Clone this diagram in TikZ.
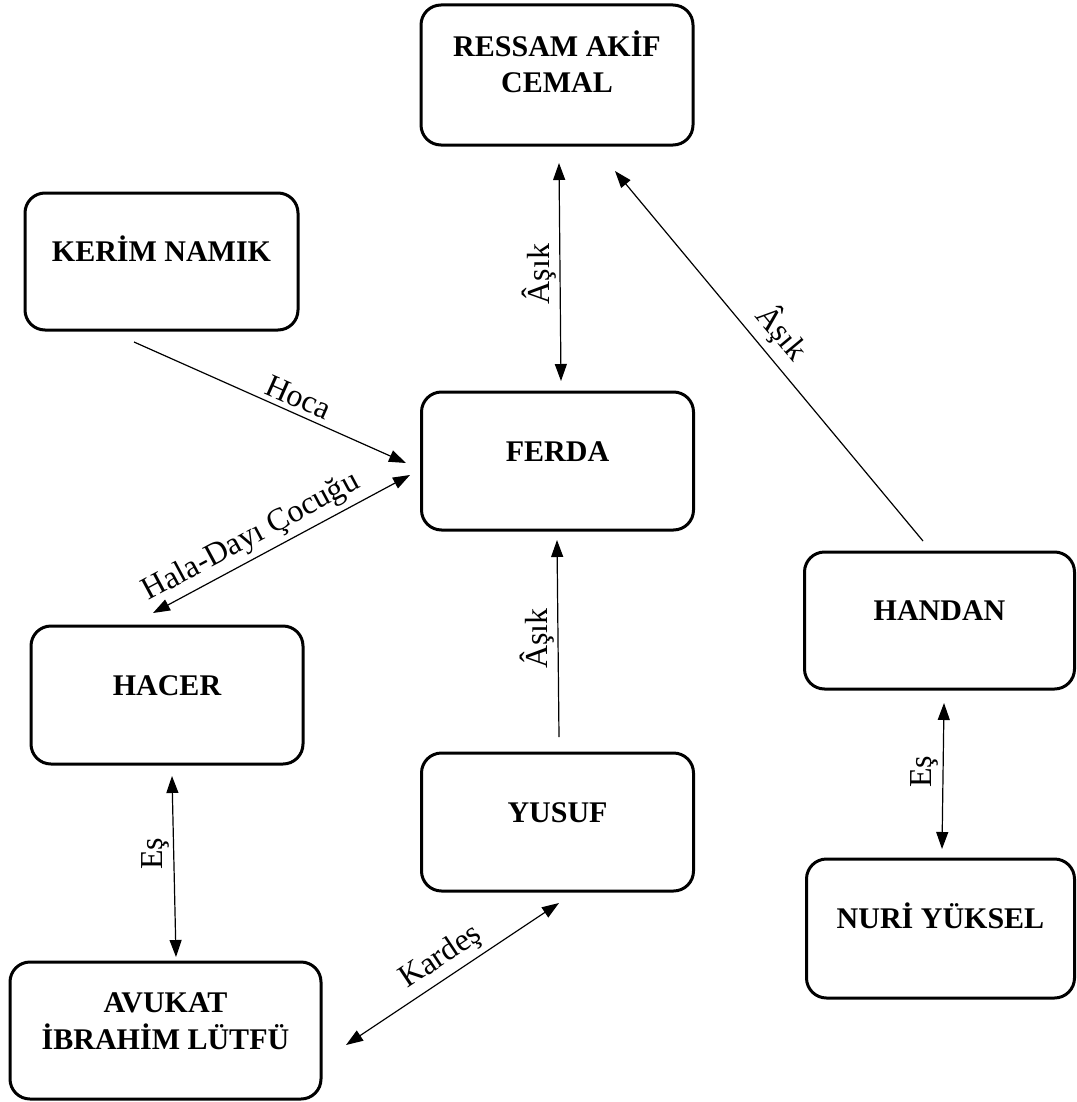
\documentclass[tikz,border=0pt]{standalone}
\usepackage{fontspec}
\setmainfont{Liberation Serif}
\usetikzlibrary{arrows.meta}
\begin{document}
\begin{tikzpicture}[x=0.5pt,y=-0.5pt,
  box/.style={draw, line width=1.5pt, rounded corners=10pt, inner sep=0pt},
  boxtxt/.style={font=\fontsize{15}{18}\selectfont\bfseries, inner sep=0pt, anchor=base},
  rel/.style={line width=0.6pt},
  lbl/.style={font=\fontsize{16}{19}\selectfont, inner sep=2.5pt, anchor=south},
  >={Triangle[length=8.5pt,width=6pt]}]
\useasboundingbox (0,0) rectangle (1076,1102);

% boxes
\node[box, minimum width=136pt, minimum height=70pt] (ressam) at (557,75) {};
\node[box, minimum width=136.5pt, minimum height=68.5pt] (kerim) at (161.5,261.5) {};
\node[box, minimum width=136pt, minimum height=69pt] (ferda) at (557.5,461) {};
\node[box, minimum width=135pt, minimum height=68.5pt] (handan) at (939.5,620.5) {};
\node[box, minimum width=136pt, minimum height=69pt] (hacer) at (167,695) {};
\node[box, minimum width=136pt, minimum height=69pt] (yusuf) at (557.5,822) {};
\node[box, minimum width=134pt, minimum height=69.5pt] (nuri) at (940.5,928.5) {};
\node[box, minimum width=155.5pt, minimum height=68.5pt] (avukat) at (165.5,1030.5) {};

% box texts
\node[boxtxt] (ressamA) at ([shift={(0,-18)}]ressam.center) {RESSAM AKİF};
\node[boxtxt] (ressamB) at ([shift={(0,18)}]ressam.center) {CEMAL};
\node[boxtxt] (kerimT) at (kerim.center) {KERİM NAMIK};
\node[boxtxt] (ferdaT) at (ferda.center) {FERDA};
\node[boxtxt] (handanT) at (handan.center) {HANDAN};
\node[boxtxt] (hacerT) at (hacer.center) {HACER};
\node[boxtxt] (yusufT) at (yusuf.center) {YUSUF};
\node[boxtxt] (nuriT) at (nuri.center) {NURİ YÜKSEL};
\node[boxtxt] (avukatA) at ([shift={(0,-18.5)}]avukat.center) {AVUKAT};
\node[boxtxt] (avukatB) at ([shift={(0,18.5)}]avukat.center) {İBRAHİM LÜTFÜ};

% connectors
\draw[rel,<->] ([shift={(2,88)}]ressam.center) --
  node[lbl,pos=0.51,rotate=90,inner sep=1.5pt] (l1) {Âşık}
  ([shift={(3.5,-80)}]ferda.center);
\draw[rel,->] ([shift={(-16.5,-79.5)}]handan.center) --
  node[lbl,pos=0.52,rotate=-50.2,inner sep=3.5pt] (l2) {Âşık}
  ([shift={(58,96)}]ressam.center);
\draw[rel,->] ([shift={(-27.5,80.5)}]kerim.center) --
  node[lbl,pos=0.58,rotate=-24] (l3) {Hoca}
  ([shift={(-151.5,2)}]ferda.center);
\draw[rel,<->] ([shift={(-14,-82)}]hacer.center) --
  node[lbl,pos=0.42,rotate=28.2] (l4) {Hala-Dayı Çocuğu}
  ([shift={(-147.5,14)}]ferda.center);
\draw[rel,->] ([shift={(1.5,-85)}]yusuf.center) --
  node[lbl,pos=0.5,rotate=90,inner sep=1.5pt] (l5) {Âşık}
  ([shift={(-0.5,79)}]ferda.center);
\draw[rel,<->] ([shift={(5,81)}]hacer.center) --
  node[lbl,pos=0.43,rotate=90,inner sep=2pt] (l6) {Eş}
  ([shift={(10.5,-73.5)}]avukat.center);
\draw[rel,<->] ([shift={(180.5,14.5)}]avukat.center) --
  node[lbl,pos=0.5,rotate=33.7] (l7) {Kardeş}
  ([shift={(1.5,81)}]yusuf.center);
\draw[rel,<->] ([shift={(4.5,82.5)}]handan.center) --
  node[lbl,pos=0.47,rotate=90,inner sep=2pt] (l8) {Eş}
  ([shift={(1.5,-79.5)}]nuri.center);
\end{tikzpicture}
\end{document}
